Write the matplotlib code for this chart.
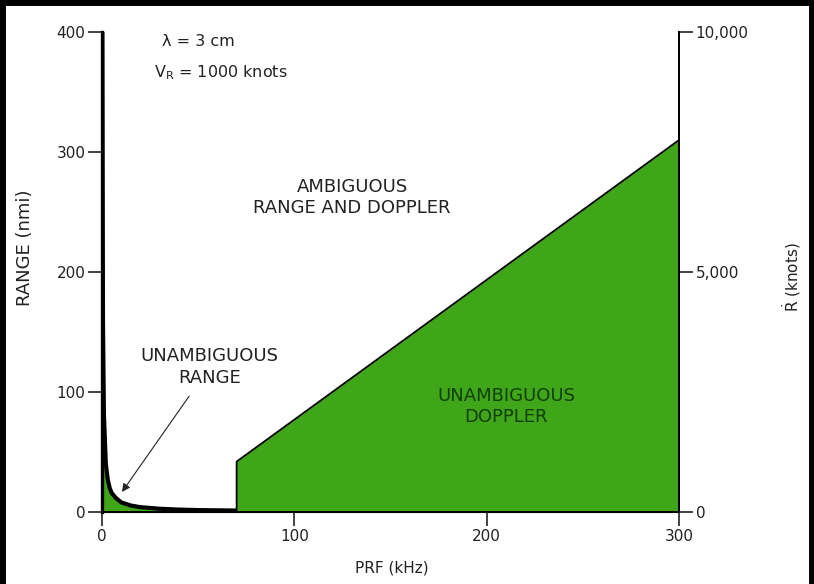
import matplotlib.pyplot as plt
from matplotlib.lines import Line2D

plt.rcParams['font.family'] = ['DejaVu Sans']

# unambiguous range curve
range_prf = [0.2, 0.5, 1, 2, 3, 4, 5, 7, 10, 15, 20, 30, 40, 50, 60, 70]
range_nmi = [400, 162, 81, 40, 27, 20, 16, 12, 8, 5.4, 4, 2.7, 2, 1.6, 1.4, 1.2]

# unambiguous doppler boundary
doppler_prf = [70, 300]
doppler_nmi = [42, 310]

x_ticks = [0, 100, 200, 300]
left_ticks = [0, 100, 200, 300, 400]
right_ticks = [0, 5000, 10000]
right_labels = ['0', '5,000', '10,000']

green = '#3ea618'
ink = '#222222'

fig = plt.figure(figsize=(8.14, 5.84), dpi=100)
ax = fig.add_axes([0.1253, 0.1233, 0.7089, 0.8219])

# green regions
ax.fill_between([0] + range_prf, [400] + range_nmi, 0, color=green, lw=0)
ax.fill_between(doppler_prf, doppler_nmi, 0, color=green, lw=0)

# outlines
ax.plot([0] + range_prf, [400] + range_nmi, color='black', lw=3, solid_capstyle='butt')
ax.plot([doppler_prf[0], doppler_prf[0], doppler_prf[1]],
        [0, doppler_nmi[0], doppler_nmi[1]], color='black', lw=1.3)

ax.set_xlim(0, 300)
ax.set_ylim(0, 400)
ax.set_xticks(x_ticks)
ax.set_yticks(left_ticks)
ax.spines['top'].set_visible(False)
ax.spines['left'].set_linewidth(2.4)
ax.spines['bottom'].set_linewidth(1.4)
ax.spines['right'].set_linewidth(1.4)
ax.tick_params(axis='both', direction='out', length=10, width=1.2,
               labelsize=11, colors=ink, pad=2)
ax.set_xlabel('PRF (kHz)', fontsize=11, color=ink)
ax.xaxis.set_label_coords(0.503, -0.102)
ax.set_ylabel('RANGE (nmi)', fontsize=13, color=ink)
ax.yaxis.set_label_coords(-0.118, 0.55)

ax2 = ax.twinx()
ax2.set_ylim(0, 10000)
ax2.set_yticks(right_ticks)
ax2.set_yticklabels(right_labels)
ax2.spines['top'].set_visible(False)
ax2.spines['right'].set_linewidth(1.4)
ax2.tick_params(axis='y', direction='out', length=10, width=1.2,
                labelsize=11, colors=ink, pad=2)
ax2.set_ylabel(r'$\dot{\mathregular{R}}$ (knots)', fontsize=11, color=ink)
ax2.yaxis.set_label_coords(1.175, 0.49)

# annotations
ax.text(50, 392, 'λ = 3 cm', fontsize=11.5, color=ink, ha='center', va='center')
ax.text(62, 366, r'$\mathregular{V_R}$ = 1000 knots', fontsize=11.5, color=ink,
        ha='center', va='center')
ax.text(130, 262, 'AMBIGUOUS\nRANGE AND DOPPLER', fontsize=13, color=ink,
        ha='center', va='center', linespacing=1.25)
ax.text(210, 88, 'UNAMBIGUOUS\nDOPPLER', fontsize=13, color='#143d08',
        ha='center', va='center', linespacing=1.25)
ax.annotate('UNAMBIGUOUS\nRANGE', xy=(10.4, 16.7), xytext=(56, 121),
            fontsize=13, color=ink, ha='center', va='center', linespacing=1.25,
            arrowprops=dict(arrowstyle='-|>', color=ink, lw=0.8,
                            mutation_scale=12, shrinkA=6, shrinkB=0))

# black frame round the picture (top, left, right)
for xs, ys in [([0, 1], [0.996, 0.996]), ([0.003, 0.003], [0, 1]), ([0.997, 0.997], [0, 1])]:
    fig.add_artist(Line2D(xs, ys, transform=fig.transFigure, color='black', lw=5))

fig.savefig('out.png', dpi=100)
